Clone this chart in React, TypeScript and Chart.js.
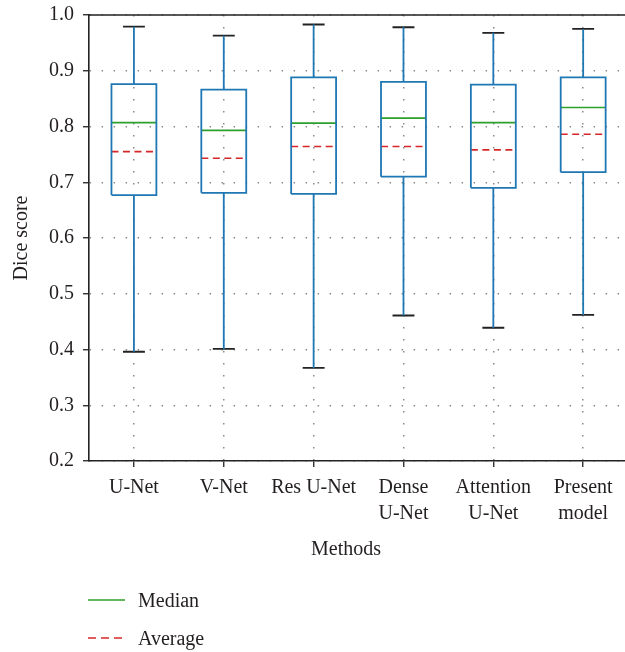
import React, { useEffect, useRef } from 'react';
import { Chart, registerables } from 'chart.js';

Chart.register(...registerables);

// ---- data ----
const categories = ['U-Net', 'V-Net', 'Res U-Net', 'Dense U-Net', 'Attention U-Net', 'Present model'];
const tickLabels = [['U-Net'], ['V-Net'], ['Res U-Net'], ['Dense', 'U-Net'], ['Attention', 'U-Net'], ['Present', 'model']];
const whiskerHigh = [0.979, 0.963, 0.983, 0.978, 0.968, 0.975];
const q3 = [0.876, 0.866, 0.888, 0.880, 0.875, 0.888];
const median = [0.807, 0.793, 0.806, 0.815, 0.807, 0.834];
const average = [0.755, 0.743, 0.764, 0.764, 0.758, 0.786];
const q1 = [0.677, 0.681, 0.679, 0.710, 0.690, 0.718];
const whiskerLow = [0.396, 0.401, 0.367, 0.461, 0.439, 0.462];
const yTicks = [0.2, 0.3, 0.4, 0.5, 0.6, 0.7, 0.8, 0.9, 1.0];

const FONT = "'Liberation Serif', 'Times New Roman', serif";
const TEXT = '#231f20';
const BLUE = '#1f77b4';
const GREEN = '#2ca02c';
const RED = '#d62728';
const BOX_HALF = 0.25;
const CAP_HALF = 0.122;

type Pt = { x: number; y: number | null };
type Seg = [number, number, number, number];

function fromSegments(segs: Seg[][]): Pt[] {
  const out: Pt[] = [];
  segs.forEach((poly) => {
    poly.forEach(([x1, y1, x2, y2], k) => {
      if (k === 0) out.push({ x: x1, y: y1 });
      out.push({ x: x2, y: y2 });
    });
    const last = poly[poly.length - 1];
    out.push({ x: last[2], y: null });
  });
  return out;
}

function buildData() {
  const boxes: Seg[][] = [];
  const whiskers: Seg[][] = [];
  const caps: Seg[][] = [];
  const meds: Seg[][] = [];
  const avgs: Seg[][] = [];
  categories.forEach((_, i) => {
    const x = i + 1;
    const l = x - BOX_HALF;
    const r = x + BOX_HALF;
    boxes.push([
      [l, q1[i], l, q3[i]],
      [l, q3[i], r, q3[i]],
      [r, q3[i], r, q1[i]],
      [r, q1[i], l, q1[i]],
    ]);
    whiskers.push([[x, q3[i], x, whiskerHigh[i]]]);
    whiskers.push([[x, q1[i], x, whiskerLow[i]]]);
    caps.push([[x - CAP_HALF, whiskerHigh[i], x + CAP_HALF, whiskerHigh[i]]]);
    caps.push([[x - CAP_HALF, whiskerLow[i], x + CAP_HALF, whiskerLow[i]]]);
    meds.push([[l, median[i], r, median[i]]]);
    avgs.push([[l, average[i], r, average[i]]]);
  });
  return {
    boxes: fromSegments(boxes),
    whiskers: fromSegments(whiskers),
    caps: fromSegments(caps),
    meds: fromSegments(meds),
    avgs: fromSegments(avgs),
  };
}

const lineDefaults = {
  type: 'line' as const,
  pointRadius: 0,
  pointHitRadius: 0,
  borderWidth: 1.8,
  tension: 0,
  fill: false,
  spanGaps: false,
  borderCapStyle: 'butt' as const,
  borderJoinStyle: 'miter' as const,
};

export default function App() {
  const ref = useRef<HTMLCanvasElement | null>(null);

  useEffect(() => {
    if (!ref.current) return;
    const d = buildData();
    const frame = {
      id: 'topFrame',
      afterDraw(chart: any) {
        const { ctx, chartArea } = chart;
        ctx.save();
        ctx.strokeStyle = '#222';
        ctx.lineWidth = 1.6;
        ctx.beginPath();
        ctx.moveTo(chartArea.left - 0.8, chartArea.top);
        ctx.lineTo(chartArea.right, chartArea.top);
        ctx.stroke();
        ctx.restore();
      },
    };
    const noPad = (s: any) => {
      s.paddingTop = 0;
      s.paddingBottom = 0;
      s.paddingLeft = 0;
      s.paddingRight = 0;
    };
    const chart = new Chart(ref.current, {
      type: 'line',
      data: {
        datasets: [
          { ...lineDefaults, label: 'Box', data: d.boxes, borderColor: BLUE },
          { ...lineDefaults, label: 'Whisker', data: d.whiskers, borderColor: BLUE },
          { ...lineDefaults, label: 'Cap', data: d.caps, borderColor: '#222' },
          { ...lineDefaults, label: 'Median', data: d.meds, borderColor: GREEN, borderWidth: 1.6 },
          { ...lineDefaults, label: 'Average', data: d.avgs, borderColor: RED, borderWidth: 1.6, borderDash: [7, 4.5] },
        ] as any,
      },
      options: {
        responsive: false,
        animation: false,
        events: [],
        layout: { padding: { top: 15, left: 0, right: 0, bottom: 0 } },
        plugins: { legend: { display: false }, tooltip: { enabled: false } },
        scales: {
          x: {
            type: 'linear',
            min: 0.5,
            max: 0.5 + (625 - 89) / 89.85,
            afterFit: (s: any) => {
              s.height = 191;
              noPad(s);
            },
            afterBuildTicks: (s: any) => {
              s.ticks = categories.map((_, i) => ({ value: i + 1 }));
            },
            ticks: {
              callback: (v: any) => {
                const idx = Math.round(Number(v)) - 1;
                return tickLabels[idx] ?? '';
              },
              font: { family: FONT, size: 20, lineHeight: 1.3 },
              color: TEXT,
              padding: 8,
              maxRotation: 0,
              autoSkip: false,
            },
            grid: {
              color: '#8a8a8a',
              lineWidth: 1.5,
              drawTicks: true,
              tickLength: 6,
              tickColor: '#222',
              tickWidth: 1.3,
              tickBorderDash: [],
            },
            border: { display: true, color: '#222', width: 1.6, dash: [1.5, 10.5] },
            title: { display: false },
          },
          y: {
            type: 'linear',
            min: 0.2,
            max: 1.0,
            afterFit: (s: any) => {
              s.width = 89;
              noPad(s);
            },
            afterBuildTicks: (s: any) => {
              s.ticks = yTicks.map((v) => ({ value: v }));
            },
            ticks: {
              callback: (v: any) => Number(v).toFixed(1),
              font: { family: FONT, size: 20, lineHeight: 1.2 },
              color: TEXT,
              padding: 9,
            },
            grid: {
              color: '#8a8a8a',
              lineWidth: 1.5,
              drawTicks: true,
              tickLength: 6,
              tickColor: '#222',
              tickWidth: 1.3,
              tickBorderDash: [],
            },
            border: { display: true, color: '#222', width: 1.6, dash: [1.5, 10.5] },
            title: {
              display: true,
              text: 'Dice score',
              font: { family: FONT, size: 20, lineHeight: 1.2 },
              color: TEXT,
              padding: { top: 10, bottom: 0 },
            },
          },
        },
      },
      plugins: [frame],
    } as any);
    return () => chart.destroy();
  }, []);

  const legendRow = (top: number, color: string, dash: string | undefined, text: string) => (
    <div
      style={{
        position: 'absolute',
        left: 88,
        top,
        height: 24,
        display: 'flex',
        alignItems: 'center',
        fontFamily: FONT,
        fontSize: 20,
        color: TEXT,
      }}
    >
      <svg width={37} height={4} style={{ display: 'block' }}>
        <line x1={0} y1={2} x2={37} y2={2} stroke={color} strokeWidth={1.5} strokeDasharray={dash} />
      </svg>
      <span style={{ marginLeft: 13, lineHeight: '24px' }}>{text}</span>
    </div>
  );

  return (
    <div
      style={{
        position: 'fixed',
        left: 0,
        top: 0,
        width: 625,
        height: 652,
        overflow: 'hidden',
        background: '#fff',
      }}
    >
      <canvas ref={ref} width={625} height={652} style={{ display: 'block', width: 625, height: 652 }} />
      <div
        style={{
          position: 'absolute',
          left: 246,
          top: 536,
          width: 200,
          height: 24,
          lineHeight: '24px',
          textAlign: 'center',
          fontFamily: FONT,
          fontSize: 20,
          color: TEXT,
        }}
      >
        Methods
      </div>
      {legendRow(588, GREEN, undefined, 'Median')}
      {legendRow(626, RED, '8 5', 'Average')}
    </div>
  );
}
